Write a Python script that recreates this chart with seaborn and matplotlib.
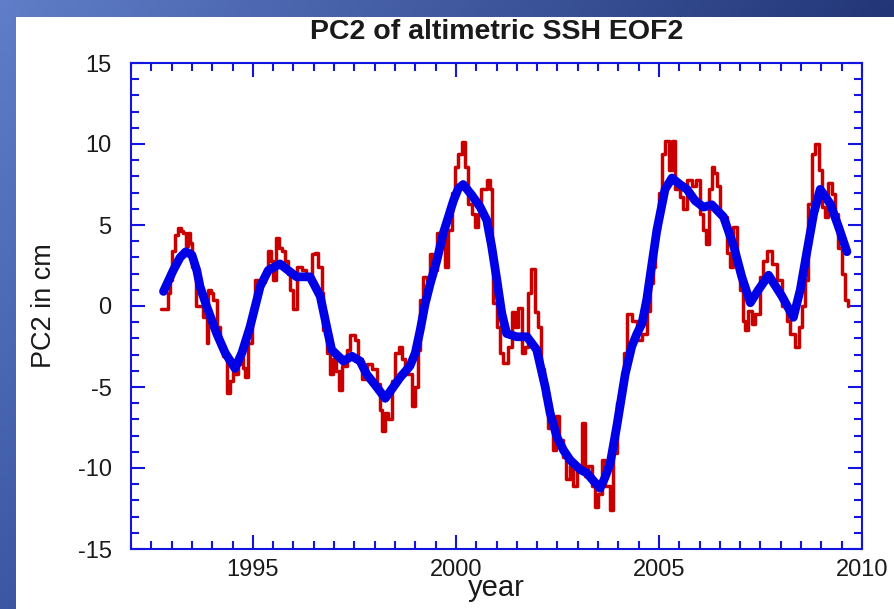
import numpy as np
import pandas as pd
import matplotlib
matplotlib.use("Agg")
import matplotlib.pyplot as plt
import seaborn as sns
from matplotlib.patches import Rectangle
from matplotlib.ticker import MultipleLocator

# raw PC2 (red, stepped)
red_year = [1992.75, 1992.85, 1992.92, 1992.96, 1993.00, 1993.08, 1993.15, 1993.22, 1993.28, 1993.36,
            1993.40, 1993.45, 1993.50, 1993.60, 1993.78, 1993.86, 1993.90, 1993.96, 1994.03, 1994.11,
            1994.19, 1994.27, 1994.36, 1994.44, 1994.50, 1994.56, 1994.63, 1994.69, 1994.75, 1994.81,
            1994.89, 1994.97, 1995.05, 1995.12, 1995.18, 1995.30, 1995.38, 1995.44, 1995.50, 1995.58,
            1995.65, 1995.71, 1995.79, 1995.86, 1995.92, 1996.00, 1996.08, 1996.20, 1996.32, 1996.45,
            1996.53, 1996.61, 1996.70, 1996.74, 1996.82, 1996.90, 1996.98, 1997.05, 1997.11, 1997.19,
            1997.31, 1997.39, 1997.45, 1997.52, 1997.60, 1997.68, 1997.80, 1997.93, 1998.05, 1998.13,
            1998.17, 1998.26, 1998.34, 1998.42, 1998.50, 1998.59, 1998.67, 1998.75, 1998.83, 1998.91,
            1998.99, 1999.07, 1999.12, 1999.20, 1999.28, 1999.36, 1999.44, 1999.53, 1999.65, 1999.73,
            1999.81, 1999.90, 1999.98, 2000.06, 2000.14, 2000.22, 2000.31, 2000.39, 2000.47, 2000.55,
            2000.63, 2000.76, 2000.84, 2000.88, 2000.92, 2001.00, 2001.09, 2001.17, 2001.29, 2001.37,
            2001.45, 2001.53, 2001.62, 2001.70, 2001.78, 2001.86, 2001.94, 2002.02, 2002.10, 2002.18,
            2002.27, 2002.39, 2002.47, 2002.55, 2002.63, 2002.72, 2002.80, 2002.89, 2002.97, 2003.10,
            2003.18, 2003.26, 2003.34, 2003.43, 2003.51, 2003.59, 2003.67, 2003.80, 2003.88, 2003.96,
            2004.04, 2004.13, 2004.21, 2004.33, 2004.45, 2004.58, 2004.70, 2004.78, 2004.86, 2004.91,
            2004.99, 2005.07, 2005.15, 2005.24, 2005.32, 2005.40, 2005.52, 2005.60, 2005.69, 2005.81,
            2005.91, 2006.00, 2006.08, 2006.16, 2006.24, 2006.30, 2006.36, 2006.42, 2006.51, 2006.67,
            2006.75, 2006.83, 2006.92, 2007.00, 2007.08, 2007.12, 2007.20, 2007.29, 2007.37, 2007.49,
            2007.57, 2007.66, 2007.78, 2007.90, 2008.03, 2008.15, 2008.23, 2008.35, 2008.44, 2008.52,
            2008.60, 2008.68, 2008.77, 2008.85, 2008.93, 2009.01, 2009.09, 2009.17, 2009.26, 2009.34,
            2009.42, 2009.50, 2009.58, 2009.66]
red_pc2 = [-0.2, -0.2, 0.8, 1.6, 3.4, 4.4, 4.8, 4.6, 4.5, 3.7,
           4.5, 3.9, 2.4, 0.0, -0.7, -2.3, 1.0, 0.8, 0.4, -1.3,
           -2.5, -3.1, -5.4, -4.6, -4.0, -4.2, -3.6, -3.1, -3.8, -4.4,
           -2.3, -0.2, 1.6, 1.3, 1.5, 2.2, 3.4, 2.8, 1.6, 4.2,
           3.6, 3.4, 2.8, 2.0, 1.0, -0.2, 2.4, 2.2, 1.8, 3.2,
           3.3, 2.4, 0.8, -1.5, -2.9, -4.2, -3.3, -4.0, -5.2, -3.7,
           -2.7, -1.8, -1.8, -2.1, -3.3, -4.5, -3.6, -3.9, -4.8, -6.4,
           -7.7, -6.6, -7.0, -4.6, -2.9, -2.5, -3.3, -4.2, -4.2, -6.2,
           -5.0, -2.7, 0.4, 1.8, 1.6, 3.2, 2.2, 4.5, 4.5, 2.4,
           4.7, 7.0, 8.6, 9.4, 10.1, 8.6, 6.3, 5.7, 4.9, 5.7,
           7.2, 7.8, 7.2, 3.7, 0.2, -1.3, -2.9, -3.5, -2.5, -0.4,
           -1.3, -0.1, -2.9, -2.5, 0.8, 2.3, -0.4, -1.3, -3.9, -5.6,
           -7.5, -8.9, -6.8, -8.3, -9.3, -10.7, -9.9, -11.1, -10.1, -7.2,
           -10.5, -9.9, -11.1, -12.4, -11.6, -9.5, -11.1, -12.6, -9.1, -6.0,
           -5.2, -2.9, -0.5, -0.9, -2.1, -1.7, -0.3, 1.4, 2.4, 4.7,
           7.0, 9.4, 10.2, 8.4, 10.2, 7.2, 6.7, 6.0, 7.8, 7.4,
           7.8, 5.7, 4.7, 3.8, 7.2, 8.6, 8.2, 7.4, 5.5, 3.3,
           2.4, 4.9, 2.4, 1.0, -0.9, -1.5, -0.3, -1.1, -0.5, 1.8,
           2.8, 3.4, 2.6, 1.6, 0.0, -0.9, -1.7, -2.5, -1.3, 0.0,
           1.6, 6.3, 9.4, 10.0, 8.4, 6.1, 5.5, 7.6, 6.9, 5.7,
           3.6, 2.0, 0.4, 0.0]

# smoothed PC2 (thick blue)
smooth_year = [1992.80, 1993.04, 1993.21, 1993.35, 1993.50, 1993.62, 1993.70, 1993.86, 1994.11, 1994.32,
               1994.56, 1994.73, 1994.93, 1995.18, 1995.38, 1995.67, 1995.87, 1996.08, 1996.41, 1996.66,
               1996.82, 1996.94, 1997.23, 1997.44, 1997.64, 1997.80, 1998.05, 1998.26, 1998.46, 1998.63,
               1998.87, 1999.00, 1999.12, 1999.24, 1999.36, 1999.53, 1999.69, 1999.94, 2000.06, 2000.18,
               2000.39, 2000.60, 2000.76, 2000.88, 2001.01, 2001.13, 2001.25, 2001.50, 2001.75, 2001.99,
               2002.20, 2002.32, 2002.49, 2002.65, 2002.81, 2003.06, 2003.22, 2003.39, 2003.55, 2003.67,
               2003.80, 2003.96, 2004.17, 2004.33, 2004.46, 2004.58, 2004.70, 2004.78, 2004.95, 2005.15,
               2005.32, 2005.52, 2005.69, 2005.89, 2006.10, 2006.30, 2006.59, 2006.84, 2007.04, 2007.25,
               2007.45, 2007.70, 2008.03, 2008.31, 2008.48, 2008.64, 2008.81, 2008.97, 2009.22, 2009.42,
               2009.63]
smooth_pc2 = [0.9, 2.2, 3.0, 3.35, 3.15, 2.2, 1.2, 0.0, -1.7, -2.9,
              -3.85, -2.9, -1.3, 1.2, 2.2, 2.6, 2.2, 1.8, 1.8, 0.6,
              -1.3, -2.7, -3.4, -3.1, -3.4, -4.2, -5.0, -5.7, -5.0, -4.4,
              -3.7, -2.9, -1.5, 0.1, 1.3, 2.8, 4.5, 6.5, 7.25, 7.5,
              6.85, 6.1, 5.3, 3.7, 1.6, -0.45, -1.7, -1.9, -1.9, -2.7,
              -5.0, -6.6, -8.1, -8.9, -9.5, -10.1, -10.3, -10.8, -11.25, -10.6,
              -9.7, -7.45, -4.2, -2.5, -1.7, -1.1, 0.4, 1.8, 4.7, 7.2,
              7.9, 7.5, 7.2, 6.5, 6.1, 6.25, 5.5, 3.7, 1.8, 0.2,
              1.0, 1.9, 0.6, -0.7, 1.0, 3.3, 5.7, 7.2, 6.3, 4.9,
              3.35]

year_ticks = [1995, 2000, 2005, 2010]
pc_ticks = [-15, -10, -5, 0, 5, 10, 15]

raw = pd.DataFrame({"year": red_year, "pc2": red_pc2})
smooth = pd.DataFrame({"year": smooth_year, "pc2": smooth_pc2})

sns.set_theme(style="white")
plt.rcParams["font.family"] = ["Liberation Sans", "DejaVu Sans"]
plt.rcParams["axes.unicode_minus"] = False

W, H = 894, 609
axis_blue = "#1414e0"
text_col = "#1a1a1a"

fig = plt.figure(figsize=(W / 100, H / 100), dpi=100)

# slide background: blue gradient with white panel
bg = fig.add_axes([0, 0, 1, 1])
bg.axis("off")
u = np.linspace(0, 1, 128)[None, :, None]
v = np.linspace(0, 1, 128)[:, None, None]
tl = np.array([95, 125, 200]) / 255
tr = np.array([35, 55, 120]) / 255
bl = np.array([60, 88, 165]) / 255
grad = np.clip(tl + (tr - tl) * u + (bl - tl) * v, 0, 1)
bg.imshow(grad, extent=[0, 1, 0, 1], aspect="auto", origin="upper")
bg.add_patch(Rectangle((16 / W, 0), 1, 1 - 17 / H, facecolor="white", edgecolor="none"))
bg.set_xlim(0, 1)
bg.set_ylim(0, 1)

ax = fig.add_axes([131 / W, 1 - 549 / H, (862 - 131) / W, (549 - 63) / H])
ax.set_facecolor("white")

sns.lineplot(data=raw, x="year", y="pc2", ax=ax, color="#c80000", lw=2.5,
             drawstyle="steps-post", zorder=2)
sns.lineplot(data=smooth, x="year", y="pc2", ax=ax, color="#0000e6", lw=6.3,
             solid_capstyle="round", solid_joinstyle="round", zorder=3)

ax.set_xlim(1992, 2010)
ax.set_ylim(-15, 15)
ax.set_xticks(year_ticks)
ax.set_yticks(pc_ticks)
ax.xaxis.set_minor_locator(MultipleLocator(0.5))
ax.yaxis.set_minor_locator(MultipleLocator(1))

for s in ax.spines.values():
    s.set_visible(True)
    s.set_color(axis_blue)
    s.set_linewidth(1.5)

ax.tick_params(which="both", direction="in", bottom=True, left=True, top=True, right=True,
               color=axis_blue, labelcolor=text_col, labelsize=17)
ax.tick_params(which="major", length=10, width=1.5)
ax.tick_params(which="minor", length=6, width=1.5)
ax.tick_params(axis="x", pad=7)
ax.tick_params(axis="y", pad=14)

ax.set_xlabel("year", fontsize=21, color=text_col, labelpad=-5)
ax.set_ylabel("PC2 in cm", fontsize=19.5, color=text_col, labelpad=15)
ax.set_title("PC2 of altimetric SSH EOF2", fontsize=20.5, fontweight="bold",
             color=text_col, pad=17)

fig.savefig("out.png", dpi=100)
